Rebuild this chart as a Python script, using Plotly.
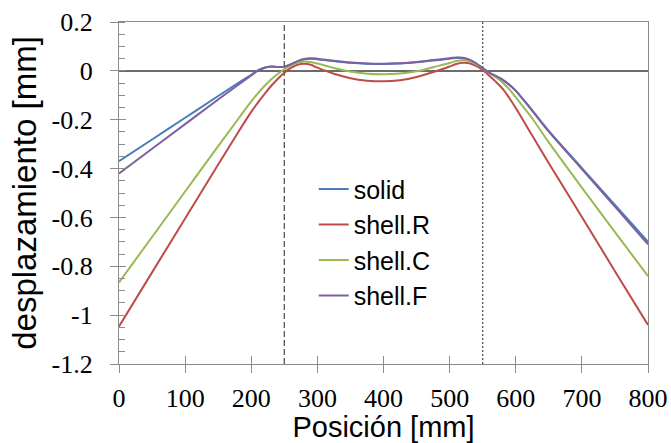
import plotly.graph_objects as go

# Position along the specimen [mm]
posicion = [0, 50, 100, 150, 180, 200, 210, 220, 230, 240, 250, 260, 270, 280, 290,
            300, 325, 350, 375, 400, 425, 450, 475, 500, 510, 520, 530, 540, 550,
            560, 570, 580, 590, 600, 625, 650, 700, 750, 800]

solid = [-0.370, -0.281, -0.192, -0.103, -0.050, -0.016, 0.002, 0.013, 0.018, 0.016,
         0.017, 0.026, 0.038, 0.047, 0.050, 0.048, 0.040, 0.033, 0.029, 0.028, 0.030,
         0.035, 0.042, 0.050, 0.053, 0.052, 0.045, 0.030, 0.010, -0.008, -0.022,
         -0.037, -0.057, -0.082, -0.162, -0.246, -0.398, -0.549, -0.700]

shell_R = [-1.046, -0.825, -0.604, -0.383, -0.252, -0.168, -0.130, -0.095, -0.062,
           -0.033, -0.008, 0.012, 0.025, 0.029, 0.025, 0.013, -0.012, -0.030, -0.040,
           -0.043, -0.038, -0.025, -0.005, 0.018, 0.028, 0.033, 0.031, 0.020, 0.003,
           -0.020, -0.045, -0.073, -0.110, -0.152, -0.265, -0.378, -0.598, -0.820,
           -1.040]

shell_C = [-0.866, -0.680, -0.494, -0.308, -0.198, -0.125, -0.092, -0.062, -0.035,
           -0.013, 0.006, 0.022, 0.033, 0.038, 0.036, 0.030, 0.012, -0.003, -0.012,
           -0.014, -0.011, -0.002, 0.015, 0.032, 0.040, 0.043, 0.040, 0.028, 0.010,
           -0.008, -0.026, -0.048, -0.075, -0.108, -0.195, -0.293, -0.478, -0.660,
           -0.840]

shell_F = [-0.420, -0.319, -0.218, -0.117, -0.058, -0.019, 0.001, 0.013, 0.018, 0.016,
           0.017, 0.027, 0.040, 0.049, 0.052, 0.050, 0.041, 0.034, 0.030, 0.029, 0.031,
           0.036, 0.044, 0.052, 0.055, 0.054, 0.046, 0.031, 0.011, -0.007, -0.021,
           -0.036, -0.056, -0.081, -0.164, -0.249, -0.402, -0.556, -0.710]

series_names = ["solid", "shell.R", "shell.C", "shell.F"]
series_values = [solid, shell_R, shell_C, shell_F]
series_colors = ["#4a7ebb", "#be4b48", "#98b954", "#7d60a0"]

boundaries = [250, 550]
boundary_dash = ["6px,3px", "2px,2px"]
y_range = [-1.2, 0.2]

x_tickvals = [0, 100, 200, 300, 400, 500, 600, 700, 800]
x_ticktext = ["0", "100", "200", "300", "400", "500", "600", "700", "800"]
y_tickvals = [0.2, 0.0, -0.2, -0.4, -0.6, -0.8, -1.0, -1.2]
y_ticktext = ["0.2", "0", "-0.2", "-0.4", "-0.6", "-0.8", "-1", "-1.2"]

fig = go.Figure()

for x0, d in zip(boundaries, boundary_dash):
    fig.add_trace(go.Scatter(x=[x0, x0], y=y_range, mode="lines",
                             line=dict(color="#555555", width=1.3, dash=d),
                             showlegend=False, hoverinfo="skip"))

for name, vals, col in zip(series_names, series_values, series_colors):
    fig.add_trace(go.Scatter(x=posicion, y=vals, name=name, mode="lines",
                             line=dict(color=col, width=2, shape="spline", smoothing=1.0)))

# invisible trace on the overlay axes so they render
fig.add_trace(go.Scatter(x=[0], y=[0], xaxis="x2", yaxis="y2", mode="markers",
                         marker=dict(opacity=0), showlegend=False, hoverinfo="skip"))

axis_line = "#8c8c8c"
tick_font = dict(family="Liberation Serif", size=26, color="black")

fig.update_layout(
    width=671, height=443,
    margin=dict(l=119, r=23, t=22, b=79),
    paper_bgcolor="white", plot_bgcolor="white",
    showlegend=True,
    legend=dict(x=0.368, y=0.578, xanchor="left", yanchor="top",
                font=dict(family="Liberation Sans", size=25, color="black"),
                bgcolor="rgba(0,0,0,0)", tracegroupgap=0),
    xaxis=dict(range=[0, 800], tickmode="array", tickvals=x_tickvals, ticktext=x_ticktext,
               showgrid=False, zeroline=False, automargin=False,
               showline=True, linecolor=axis_line, linewidth=1.2, mirror=True,
               ticks="outside", ticklen=8, tickcolor=axis_line, tickwidth=1.2,
               tickfont=tick_font, ticklabelstandoff=3,
               title=dict(text="Posición [mm]",
                          font=dict(family="Liberation Sans", size=29, color="black"),
                          standoff=0)),
    yaxis=dict(range=y_range, tickmode="array", tickvals=y_tickvals, ticktext=y_ticktext,
               showgrid=False, automargin=False,
               zeroline=True, zerolinecolor="#6b6b6b", zerolinewidth=1.6,
               showline=True, linecolor=axis_line, linewidth=1.2, mirror=True,
               ticks="outside", ticklen=8, tickcolor=axis_line, tickwidth=1.2,
               tickfont=tick_font, ticklabelstandoff=12,
               minor=dict(tickmode="linear", tick0=0, dtick=0.05, ticks="inside", ticklen=6,
                          tickcolor=axis_line, tickwidth=1.2),
               title=dict(text="desplazamiento [mm]",
                          font=dict(family="Liberation Sans", size=33, color="black"),
                          standoff=4)),
    xaxis2=dict(range=[0, 800], tickmode="array", tickvals=x_tickvals, overlaying="x",
                side="bottom", automargin=False,
                showgrid=False, zeroline=False, showline=False, showticklabels=False,
                ticks="inside", ticklen=8, tickcolor=axis_line, tickwidth=1.2),
    yaxis2=dict(range=y_range, tickmode="array", tickvals=y_tickvals, overlaying="y",
                side="left", automargin=False,
                showgrid=False, zeroline=False, showline=False, showticklabels=False,
                ticks="inside", ticklen=7, tickcolor=axis_line, tickwidth=1.2),
)

fig.write_html("out.html", config={"displayModeBar": False},
               post_script="document.body.style.margin='0';document.body.style.overflow='hidden';")
